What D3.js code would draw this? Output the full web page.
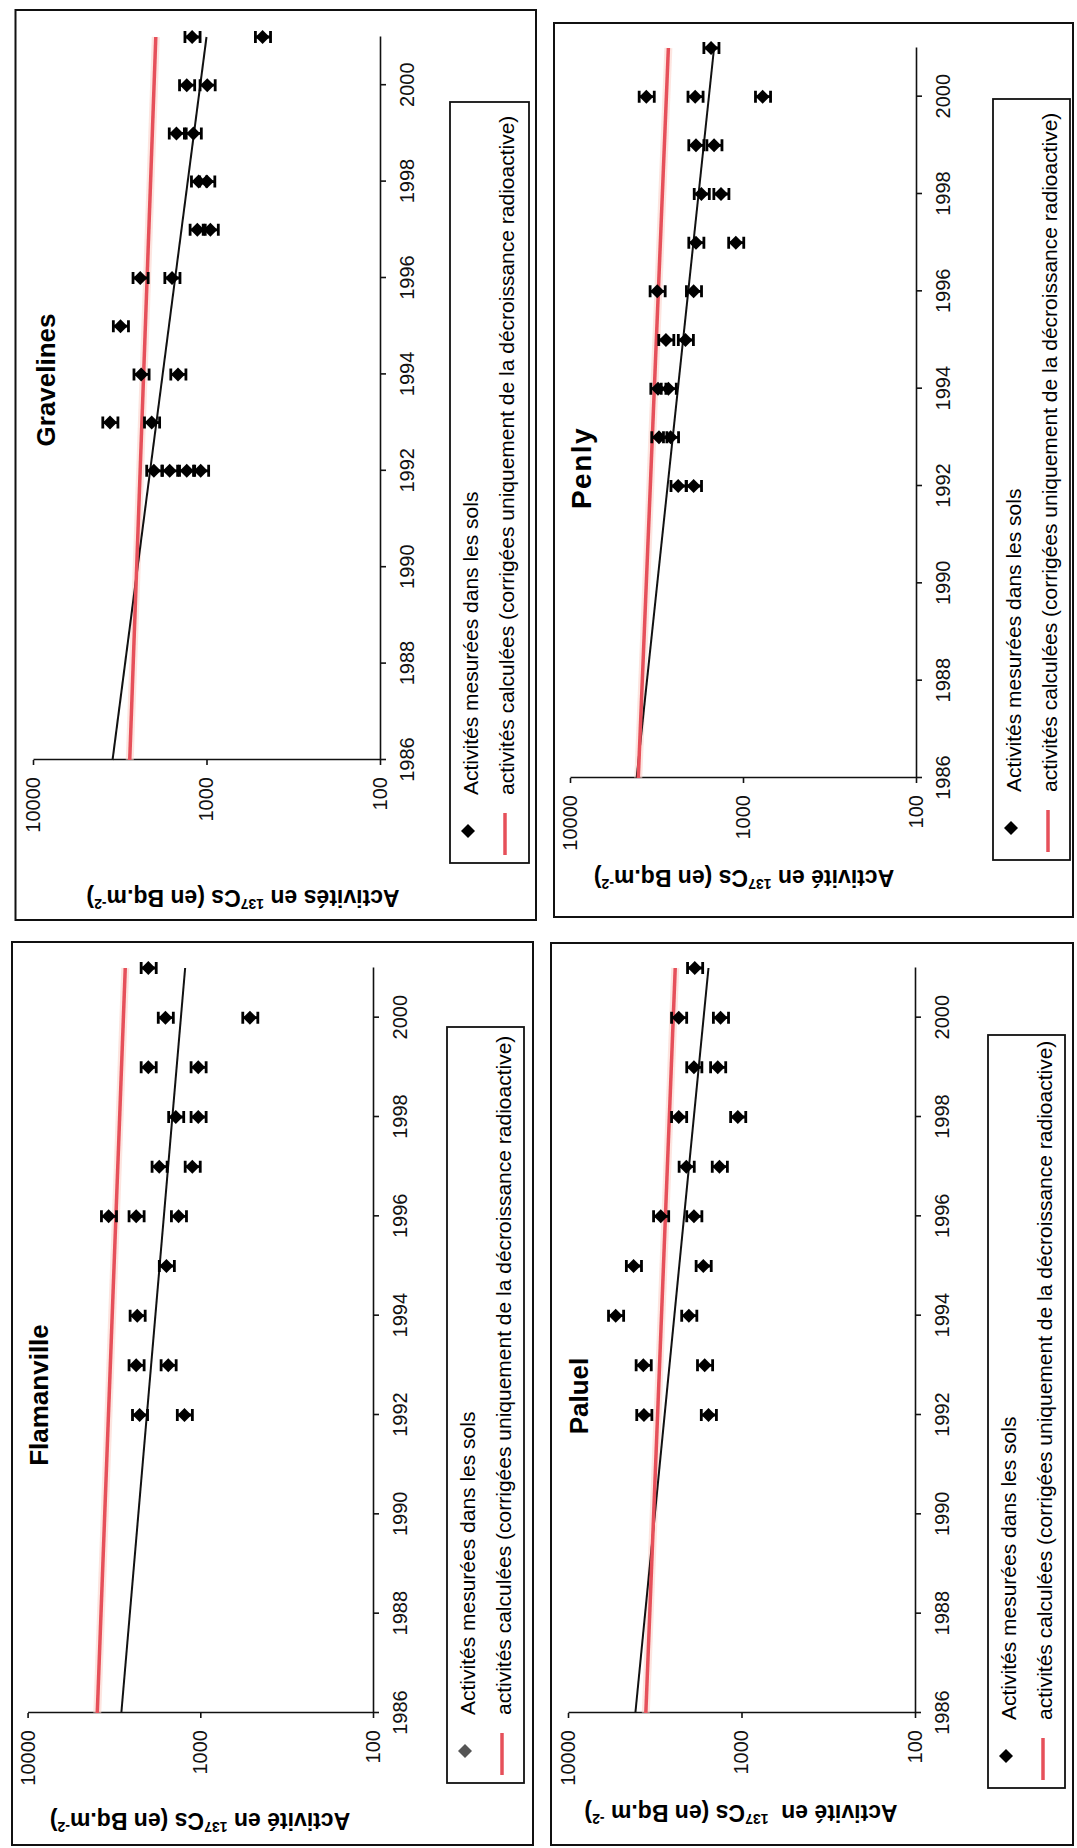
<!DOCTYPE html>
<html>
<head>
<meta charset="utf-8">
<script src="https://cdn.jsdelivr.net/npm/d3@7"></script>
<style>
  body { margin: 0; background: #fff; }
  svg { display: block; font-family: "Liberation Sans", Arial, sans-serif; }
</style>
</head>
<body>
<svg id="chart" width="1077" height="1848"></svg>
<script>
// Axis ticks and domains
const yearDomain = [1986, 2001];
const yearTicks = [1986, 1988, 1990, 1992, 1994, 1996, 1998, 2000];
const activityDomain = [10000, 100];
const activityTicks = [100, 1000, 10000];
const measureError = 0.1; // relative error bar on each measurement

const legendLabels = [
  'Activités mesurées dans les sols',
  'activités calculées (corrigées uniquement de la décroissance radioactive)',
];

const gravelinesMeasured = [
  [1992, 2010], [1992, 1630], [1992, 1300], [1992, 1080],
  [1993, 3600], [1993, 2070],
  [1994, 2380], [1994, 1460],
  [1995, 3130],
  [1996, 2410], [1996, 1580],
  [1997, 1130], [1997, 950],
  [1998, 1110], [1998, 995],
  [1999, 1490], [1999, 1190],
  [2000, 1300], [2000, 990],
  [2001, 1210], [2001, 475],
];
const gravelinesTrend = [[1986, 3480], [2001, 1000]];
const gravelinesDecay = [[1986, 2770], [2001, 1960]];

const flamanvilleMeasured = [
  [1992, 2245], [1992, 1235],
  [1993, 2350], [1993, 1533],
  [1994, 2317],
  [1995, 1570],
  [1996, 3396], [1996, 2350], [1996, 1336],
  [1997, 1729], [1997, 1112],
  [1998, 1386], [1998, 1028],
  [1999, 2000], [1999, 1028],
  [2000, 1592], [2000, 516],
  [2001, 2000],
];
const flamanvilleTrend = [[1986, 2866], [2001, 1224]];
const flamanvilleDecay = [[1986, 3950], [2001, 2720]];

const penlyMeasured = [
  [1992, 2370], [1992, 1930],
  [1993, 3060], [1993, 2620],
  [1994, 3100], [1994, 2700],
  [1995, 2790], [1995, 2150],
  [1996, 3130], [1996, 1930],
  [1997, 1870], [1997, 1100],
  [1998, 1740], [1998, 1340],
  [1999, 1870], [1999, 1470],
  [2000, 3620], [2000, 1890], [2000, 770],
  [2001, 1530],
];
const penlyTrend = [[1986, 4120], [2001, 1470]];
const penlyDecay = [[1986, 4030], [2001, 2700]];

const paluelMeasured = [
  [1992, 3650], [1992, 1550],
  [1993, 3680], [1993, 1630],
  [1994, 5310], [1994, 2010],
  [1995, 4190], [1995, 1660],
  [1996, 2920], [1996, 1880],
  [1997, 2080], [1997, 1340],
  [1998, 2300], [1998, 1050],
  [1999, 1880], [1999, 1370],
  [2000, 2300], [2000, 1320],
  [2001, 1860],
];
const paluelTrend = [[1986, 4090], [2001, 1550]];
const paluelDecay = [[1986, 3560], [2001, 2410]];

// Page layout of the four scanned panels (the charts are printed rotated)
const panels = [
  {
    name: 'Gravelines', measured: gravelinesMeasured, trend: gravelinesTrend, decay: gravelinesDecay,
    unit: ['Activités en ', '137', 'Cs (en Bq.m', '-2', ')'],
    frame: [15.5, 10, 536, 920], plot: { left: 33, right: 380, base: 760, top: 37 },
    title: { x: 55, y: 380, size: 26, spacing: 0 }, legend: [450, 102, 529, 863],
    unitPos: [243, 890], legendFill: '#000',
  },
  {
    name: 'Flamanville', measured: flamanvilleMeasured, trend: flamanvilleTrend, decay: flamanvilleDecay,
    unit: ['Activité en ', '137', 'Cs (en Bq.m', '-2', ')'],
    frame: [12, 942, 533, 1845], plot: { left: 27.6, right: 373, base: 1713, top: 968 },
    title: { x: 48, y: 1395, size: 26, spacing: 0 }, legend: [447, 1027, 524, 1783],
    unitPos: [200, 1813], legendFill: '#555',
  },
  {
    name: 'Penly', measured: penlyMeasured, trend: penlyTrend, decay: penlyDecay,
    unit: ['Activité en ', '137', 'Cs (en Bq.m', '-2', ')'],
    frame: [554, 23, 1073, 917], plot: { left: 570, right: 916, base: 778, top: 48 },
    title: { x: 591, y: 468, size: 28, spacing: 1.5 }, legend: [993, 99, 1070, 860],
    unitPos: [744, 870], legendFill: '#000',
  },
  {
    name: 'Paluel', measured: paluelMeasured, trend: paluelTrend, decay: paluelDecay,
    unit: ['Activité en \u00a0', '137', 'Cs (en Bq.m\u00a0', '-2', ')'],
    frame: [551, 943, 1073, 1845], plot: { left: 568, right: 915, base: 1713, top: 968 },
    title: { x: 588, y: 1396, size: 26, spacing: 0 }, legend: [988, 1035, 1065, 1788],
    unitPos: [741, 1805], legendFill: '#000',
  },
];

const RED = '#e6505a';
const diamond = (r) => `M0,${-r}L${r},0L0,${r}L${-r},0Z`;

const svg = d3.select('#chart');
svg.append('rect').attr('width', 1077).attr('height', 1848).attr('fill', '#fff');

function drawPanel(p) {
  const [fx0, fy0, fx1, fy1] = p.frame;
  svg.append('rect')
    .attr('x', fx0).attr('y', fy0)
    .attr('width', fx1 - fx0).attr('height', fy1 - fy0)
    .attr('fill', 'none').attr('stroke', '#111').attr('stroke-width', 2);

  // Chart is drawn upright in its own frame, then turned a quarter turn
  const x = d3.scaleLinear().domain(yearDomain).range([0, p.plot.base - p.plot.top]);
  const y = d3.scaleLog().domain(activityDomain).range([0, p.plot.right - p.plot.left]);
  const g = svg.append('g')
    .attr('transform', `translate(${p.plot.left},${p.plot.base}) rotate(-90)`);

  const xAxis = g.append('g')
    .attr('transform', `translate(0,${y(100)})`)
    .call(d3.axisBottom(x).tickValues(yearTicks).tickFormat(d3.format('d'))
      .tickSize(6).tickSizeOuter(0).tickPadding(14));
  const yAxis = g.append('g')
    .call(d3.axisLeft(y).tickValues(activityTicks).tickFormat((d) => d)
      .tickSize(5).tickSizeOuter(0).tickPadding(12));
  [xAxis, yAxis].forEach((a) => {
    a.attr('font-family', null).attr('font-size', null);
    a.selectAll('path, line').attr('stroke', '#111').attr('stroke-width', 1.6);
    a.selectAll('text').attr('fill', '#111').style('font-size', '20px');
  });

  const line = d3.line().x((d) => x(d[0])).y((d) => y(d[1]));

  g.append('path').datum(p.decay).attr('d', line)
    .attr('fill', 'none').attr('stroke', '#fbd3cc').attr('stroke-width', 8).attr('opacity', 0.6);
  g.append('path').datum(p.trend).attr('d', line)
    .attr('fill', 'none').attr('stroke', '#111').attr('stroke-width', 2);
  g.append('path').datum(p.decay).attr('d', line)
    .attr('fill', 'none').attr('stroke', RED).attr('stroke-width', 3.5);

  const marks = g.selectAll('g.mark')
    .data(p.measured)
    .join('g')
    .attr('class', 'mark')
    .attr('transform', (d) => `translate(${x(d[0])},${y(d[1])})`);
  marks.append('path')
    .attr('d', (d) => {
      const hi = y(d[1] * (1 + measureError)) - y(d[1]);
      const lo = y(d[1] * (1 - measureError)) - y(d[1]);
      return `M0,${hi}V${lo}M-6,${hi}H6M-6,${lo}H6`;
    })
    .attr('stroke', '#000').attr('stroke-width', 2.8).attr('fill', 'none');
  marks.append('path').attr('d', diamond(7)).attr('fill', '#000');

  // Title
  svg.append('text')
    .attr('transform', `translate(${p.title.x},${p.title.y}) rotate(-90)`)
    .attr('text-anchor', 'middle')
    .style('font-size', `${p.title.size}px`).style('font-weight', 'bold')
    .style('letter-spacing', `${p.title.spacing}px`)
    .text(p.name);

  // Value-axis title, printed upside down below the axis
  const ut = svg.append('text')
    .attr('transform', `translate(${p.unitPos[0]},${p.unitPos[1]}) rotate(180)`)
    .attr('text-anchor', 'middle')
    .style('font-size', '23px').style('font-weight', 'bold');
  p.unit.forEach((s, i) => {
    const sup = i % 2 === 1;
    ut.append('tspan')
      .attr('dy', sup ? -9 : (i > 0 ? 9 : 0))
      .style('font-size', sup ? '14px' : '23px')
      .text(s);
  });

  // Legend
  const [lx0, ly0, lx1, ly1] = p.legend;
  svg.append('rect')
    .attr('x', lx0).attr('y', ly0)
    .attr('width', lx1 - lx0).attr('height', ly1 - ly0)
    .attr('fill', '#fff').attr('stroke', '#111').attr('stroke-width', 1.8);
  svg.append('path')
    .attr('transform', `translate(${lx0 + 18},${ly1 - 32})`)
    .attr('d', diamond(7)).attr('fill', p.legendFill);
  svg.append('line')
    .attr('x1', lx0 + 55).attr('x2', lx0 + 55)
    .attr('y1', ly1 - 50).attr('y2', ly1 - 8)
    .attr('stroke', RED).attr('stroke-width', 3.5);
  [28, 64].forEach((off, i) => {
    svg.append('text')
      .attr('transform', `translate(${lx0 + off},${ly1 - 68}) rotate(-90)`)
      .style('font-size', '21px')
      .text(legendLabels[i]);
  });
}

panels.forEach(drawPanel);
</script>
</body>
</html>
